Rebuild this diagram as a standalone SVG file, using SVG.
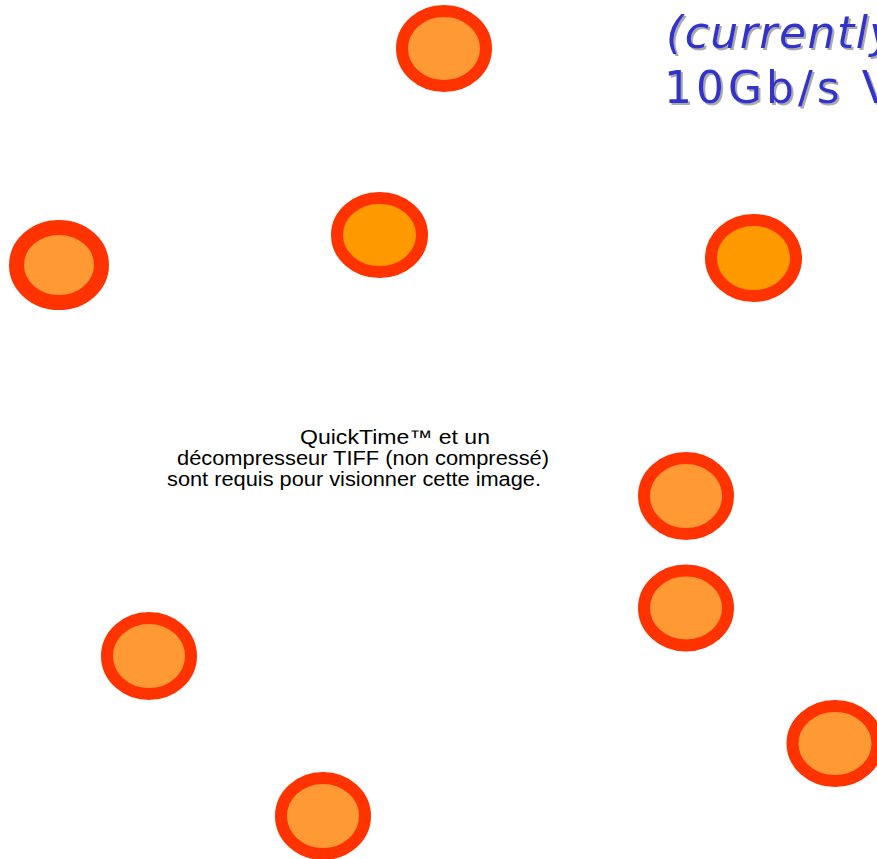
<svg xmlns="http://www.w3.org/2000/svg" width="877" height="859" viewBox="0 0 877 859">
<defs>
<filter id="sh" x="-5%" y="-20%" width="115%" height="150%">
<feDropShadow dx="2" dy="2" stdDeviation="0.6" flood-color="#AAAAAA" flood-opacity="1"/>
</filter>
</defs>
<style>
.n{stroke:#FF3300;stroke-width:12;fill:#FF9933}
.n2{fill:#FF9900}
.t{font-family:"DejaVu Sans","Liberation Sans",sans-serif;font-size:44px;fill:#3333CC;filter:url(#sh)}
.q{font-family:"Liberation Sans",Arial,sans-serif;font-size:20px;fill:#000}
</style>
<rect width="877" height="859" fill="#FFFFFF"/>
<g id="title">
<text class="t" x="666" y="48" font-style="italic" letter-spacing="1.5">(currently</text>
<text class="t" x="664" y="103" letter-spacing="4">10Gb/s V</text>
</g>
<g id="placeholder">
<text class="q" x="300" y="444" textLength="190" lengthAdjust="spacingAndGlyphs">QuickTime™ et un</text>
<text class="q" x="177" y="465" textLength="372" lengthAdjust="spacingAndGlyphs">décompresseur TIFF (non compressé)</text>
<text class="q" x="167" y="486" textLength="374" lengthAdjust="spacingAndGlyphs">sont requis pour visionner cette image.</text>
</g>
<g id="node1"><ellipse class="n" cx="444" cy="48.5" rx="42" ry="37.5"/></g>
<g id="node2"><ellipse class="n" cx="59" cy="265" rx="42.5" ry="37.5" style="stroke-width:15"/></g>
<g id="node3"><ellipse class="n n2" cx="379.5" cy="235" rx="42.5" ry="37"/></g>
<g id="node4"><ellipse class="n n2" cx="753.5" cy="258" rx="42.5" ry="38"/></g>
<g id="node5"><ellipse class="n" cx="686" cy="496" rx="42" ry="38"/></g>
<g id="node6"><ellipse class="n" cx="686" cy="608" rx="42" ry="37.5"/></g>
<g id="node7"><ellipse class="n" cx="149" cy="656" rx="42" ry="38"/></g>
<g id="node8"><ellipse class="n" cx="323" cy="816" rx="42" ry="38"/></g>
<g id="node9"><ellipse class="n" cx="835" cy="743.5" rx="42.5" ry="37.5"/></g>
<g id="connectors"></g>
</svg>
